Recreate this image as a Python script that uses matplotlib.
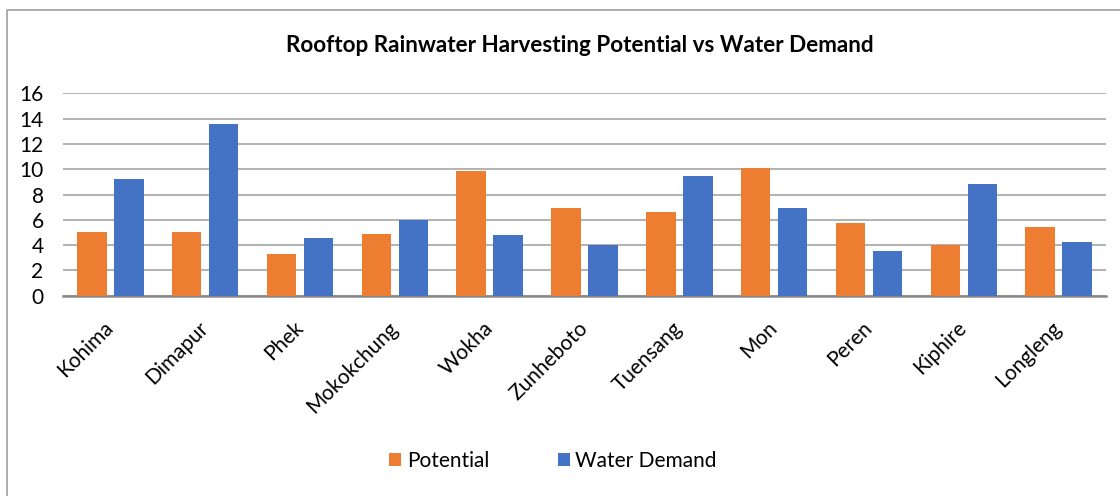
import matplotlib.pyplot as plt
import numpy as np
from matplotlib.patches import Rectangle

districts = ['Kohima', 'Dimapur', 'Phek', 'Mokokchung', 'Wokha', 'Zunheboto',
             'Tuensang', 'Mon', 'Peren', 'Kiphire', 'Longleng']
potential = [5.05, 5.05, 3.3, 4.87, 9.87, 6.97, 6.58, 10.08, 5.76, 3.97, 5.47]
water_demand = [9.24, 13.55, 4.55, 5.97, 4.76, 3.97, 9.45, 6.97, 3.55, 8.84, 4.26]

plt.rcParams['font.family'] = ['Lato', 'DejaVu Sans']

fig = plt.figure(figsize=(11.2, 4.96), dpi=100)
ax = fig.add_axes([63/1120, 1-295.7/496, (1106-63)/1120, (295.7-93.3)/496])

# chart border (only left/top visible in the crop)
fig.patches.append(Rectangle((7/1120, -0.1), 1.2, 0.1+1-10/496, transform=fig.transFigure,
                             fill=False, edgecolor='#A0A0A0', linewidth=1.2))

x = np.arange(len(districts))
w = 0.31
ax.bar(x - 0.195, potential, w, color='#ED7D31', label='Potential', zorder=3)
ax.bar(x + 0.195, water_demand, w, color='#4472C4', label='Water Demand', zorder=3)

ax.set_ylim(0, 16)
ax.set_xlim(-0.5, len(districts) - 0.5)
ax.set_yticks(range(0, 17, 2))
ax.yaxis.grid(True, color='#A6A6A6', linewidth=1.2, zorder=0)
for s in ['top', 'right', 'left']:
    ax.spines[s].set_visible(False)
ax.spines['bottom'].set_color('#888888')
ax.spines['bottom'].set_linewidth(1.8)
ax.tick_params(axis='y', length=0, pad=14, labelsize=15)
ax.tick_params(axis='x', length=0, pad=21)
ax.set_xticks(x)
ax.set_xticklabels(districts, rotation=45, ha='right', va='center',
                   rotation_mode='anchor', fontsize=15)

fig.text(580/1120, 1-46/496, 'Rooftop Rainwater Harvesting Potential vs Water Demand',
         ha='center', va='center', fontsize=16.2, fontweight='bold')

ax.legend(loc='center', bbox_to_anchor=(553/1120, 1-461/496), bbox_transform=fig.transFigure,
          ncol=2, frameon=False, fontsize=15, handlelength=0.58, handleheight=0.58,
          handletextpad=0.25, columnspacing=3.3)

plt.savefig('out.png', dpi=100)
